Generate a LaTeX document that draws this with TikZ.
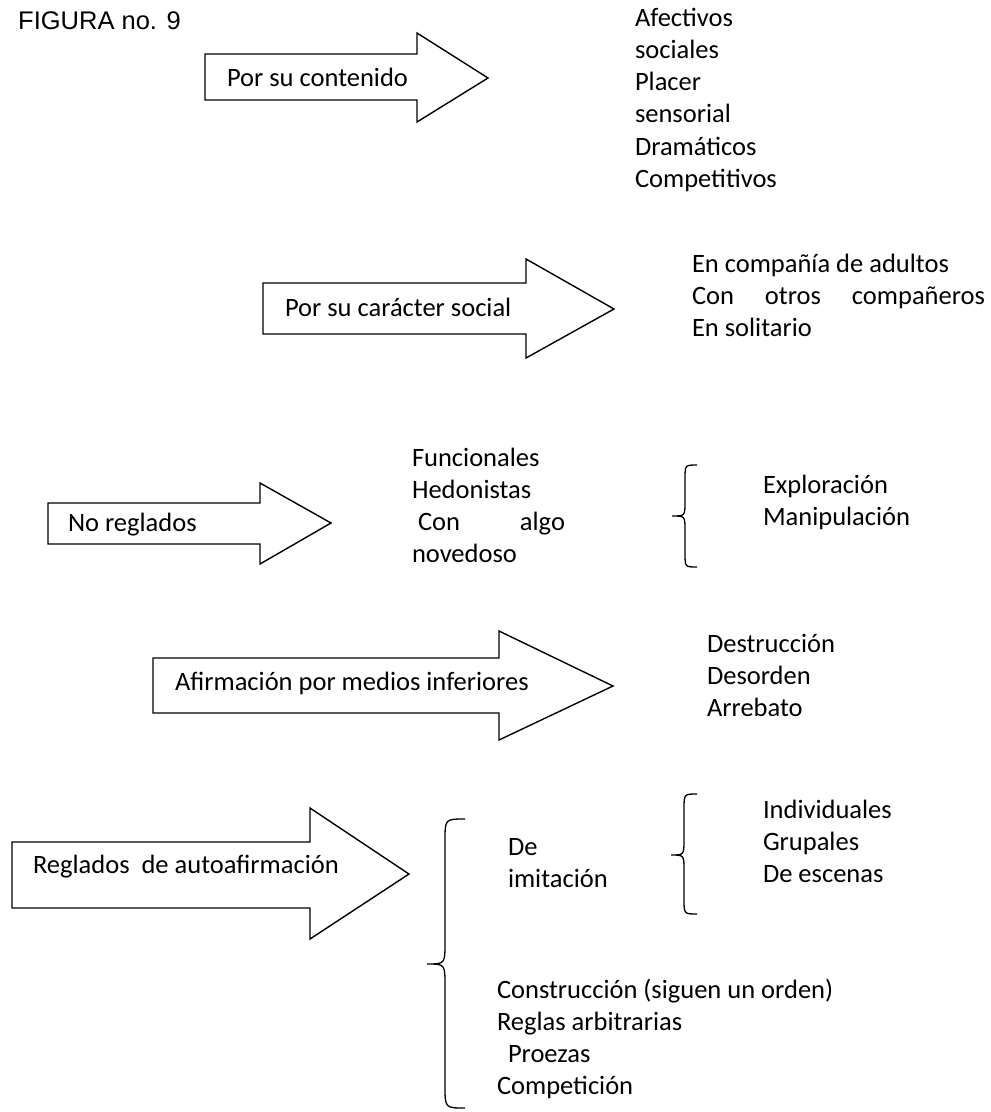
\documentclass[tikz,border=0pt]{standalone}
\usepackage{fontspec}
\setmainfont{Carlito}
\newfontfamily\titlefont{Liberation Sans}
\newcommand\wordbrace[7]{%
  \draw[brace line] (#3,#4) .. controls (#2,#4) .. (#2,#4+#7) -- (#2,#5-#7)
    .. controls (#2,#5) .. (#1,#5) .. controls (#2,#5) .. (#2,#5+#7)
    -- (#2,#6-#7) .. controls (#2,#6) .. (#3,#6);}
\begin{document}
\begin{tikzpicture}[x=1pt,y=-1pt,
  shape line/.style={draw=black,line width=1.4pt,line join=miter,fill=white},
  brace line/.style={draw=black,line width=1.3pt},
  txt/.style={anchor=base west,inner sep=0pt,outer sep=0pt,font=\fontsize{26.5}{32.3}\selectfont}]
\fill[white] (0,0) rectangle (991,1112);
\useasboundingbox (0,0) rectangle (991,1112);

% title
\node[anchor=base west,inner sep=0pt,font=\titlefont\fontsize{25.5}{30}\selectfont] (title) at (18,29.5) {FIGURA no. 9};

% arrows
\draw[shape line] (205,54) -- (417,54) -- (417,33) -- (488,78) -- (417,122) -- (417,100) -- (205,100) -- cycle;
\node[txt] (a1) at (227,86) {Por su contenido};

\draw[shape line] (263,283) -- (526,283) -- (526,259) -- (614,309) -- (526,358) -- (526,334) -- (263,334) -- cycle;
\node[txt] (a2) at (285,316) {Por su carácter social};

\draw[shape line] (48,503) -- (260,503) -- (260,483) -- (331,523) -- (260,564) -- (260,544) -- (48,544) -- cycle;
\node[txt] (a3) at (68,531) {No reglados};

\draw[shape line] (153,658) -- (499,658) -- (499,631) -- (613,686) -- (499,740) -- (499,713) -- (153,713) -- cycle;
\node[txt] (a4) at (175,690) {Afirmación por medios inferiores};

\draw[shape line] (12,842) -- (310,842) -- (310,808) -- (409,874) -- (310,939) -- (310,908) -- (12,908) -- cycle;
\node[txt] (a5) at (33,873) {Reglados\ \ de autoafirmación};

% list 1
\node[txt] (l1a) at (635,26) {Afectivos};
\node[txt] (l1b) at (635,58.3) {sociales};
\node[txt] (l1c) at (635,90.6) {Placer};
\node[txt] (l1d) at (635,122.9) {sensorial};
\node[txt] (l1e) at (635,155.2) {Dramáticos};
\node[txt] (l1f) at (635,187.5) {Competitivos};

% list 2
\node[txt] (l2a) at (692,272) {En compañía de adultos};
\node[txt] (l2b) at (692,304.3) {\makebox[293pt][s]{Con\hfill otros\hfill compañeros}};
\node[txt] (l2c) at (692,336.6) {En solitario};

% list 3
\node[txt] (l3a) at (412,466) {Funcionales};
\node[txt] (l3b) at (412,498.3) {Hedonistas};
\node[txt] (l3c) at (418,530.6) {\makebox[147pt][s]{Con\hfill algo}};
\node[txt] (l3d) at (412,562.9) {novedoso};

\wordbrace{672}{685}{697}{465}{516}{567}{14}
\node[txt] (e1) at (763,493) {Exploración};
\node[txt] (e2) at (763,525.3) {Manipulación};

% list 4
\node[txt] (l4a) at (707,652) {Destrucción};
\node[txt] (l4b) at (707,684.3) {Desorden};
\node[txt] (l4c) at (707,716.6) {Arrebato};

% reglados
\wordbrace{427}{445}{465}{819}{964}{1108}{22}
\node[txt] (d1) at (508,855) {De};
\node[txt] (d2) at (508,887.3) {imitación};

\wordbrace{671}{684}{697}{794}{855}{914}{15}
\node[txt] (i1) at (763,818) {Individuales};
\node[txt] (i2) at (763,850.3) {Grupales};
\node[txt] (i3) at (763,882.6) {De escenas};

\node[txt] (c1) at (497,998) {Construcción (siguen un orden)};
\node[txt] (c2) at (497,1030.3) {Reglas arbitrarias};
\node[txt] (c3) at (508,1062.6) {Proezas};
\node[txt] (c4) at (497,1094.9) {Competición};
\end{tikzpicture}
\end{document}
